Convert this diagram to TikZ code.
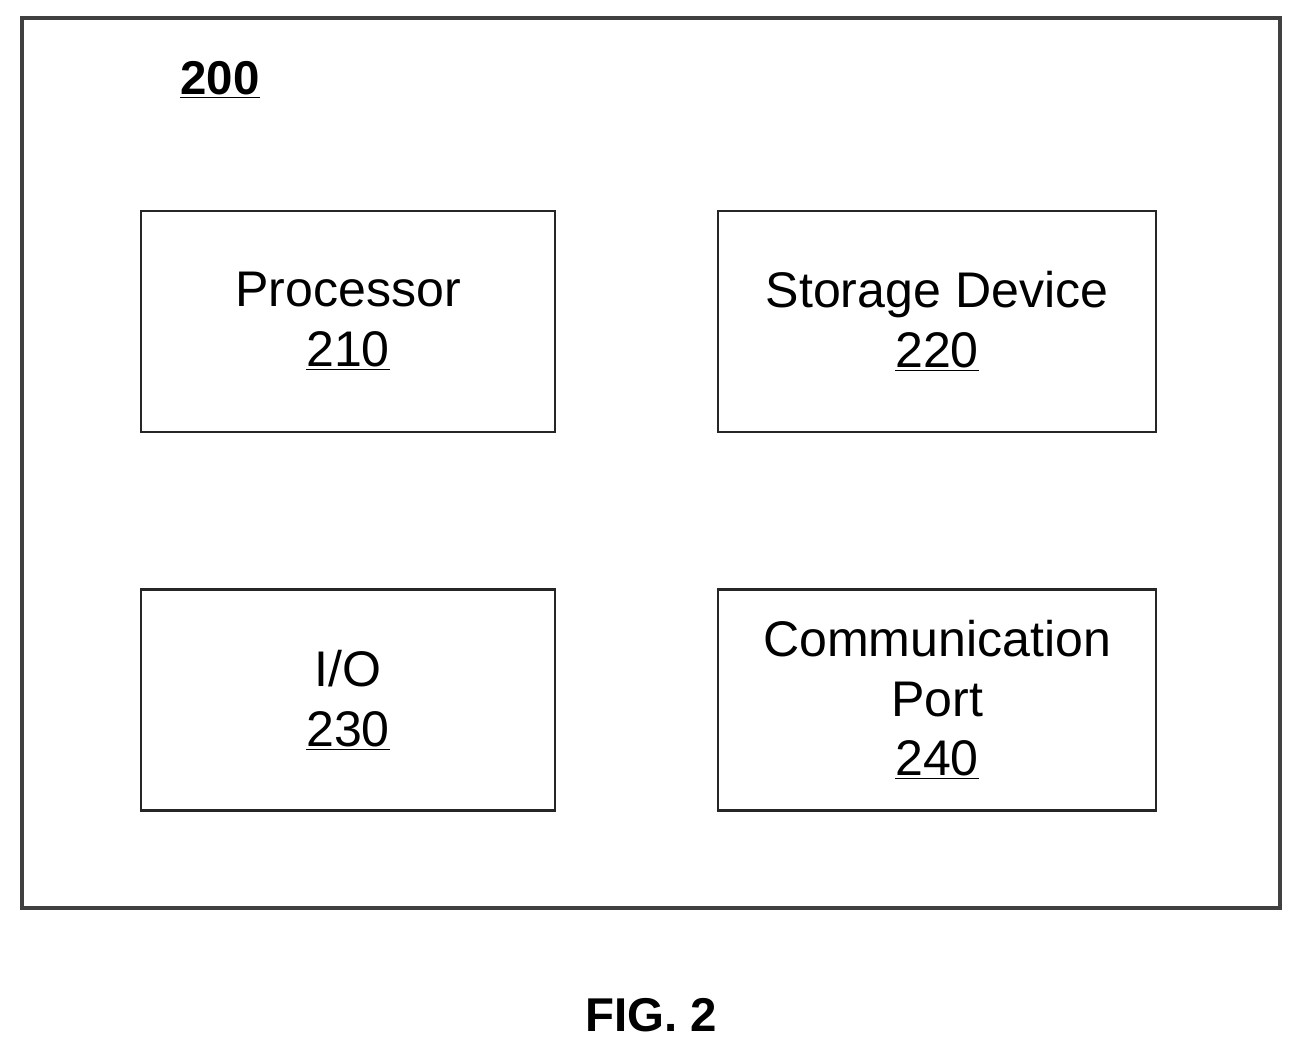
\documentclass[tikz,border=0pt]{standalone}
\usepackage{fontspec}
\setmainfont{Liberation Sans}
\usetikzlibrary{positioning}
\begin{document}
\begin{tikzpicture}[x=0.02cm, y=-0.02cm, font=\fontsize{28.5}{34}\selectfont]
        \tikzstyle{block} = [rectangle, draw=black!85, line width=1.2pt, align=center, minimum width=8.28cm, minimum height=4.42cm]
        \tikzstyle{wide} = [block, minimum width=8.76cm]
        \useasboundingbox (0,0) rectangle (1303,1054);
        \draw[black!75, line width=2.4pt] (22,18) rectangle (1280,908);
        \node[font=\fontsize{27}{30}\selectfont\bfseries] (num) at (220,80) {\underline{200}};
        \node[block] (proc) at (348,321.5) {Processor\\\underline{210}};
        \node[wide] (stor) at (937,321.5) {Storage Device\\\underline{220}};
        \node[block] (io) at (348,700) {I/O\\\underline{230}};
        \node[wide] (comm) at (937,700) {Communication\\Port\\\underline{240}};
        \node[font=\fontsize{27}{30}\selectfont\bfseries] (fig) at (651,1015) {FIG. 2};
    \end{tikzpicture}
\end{document}
